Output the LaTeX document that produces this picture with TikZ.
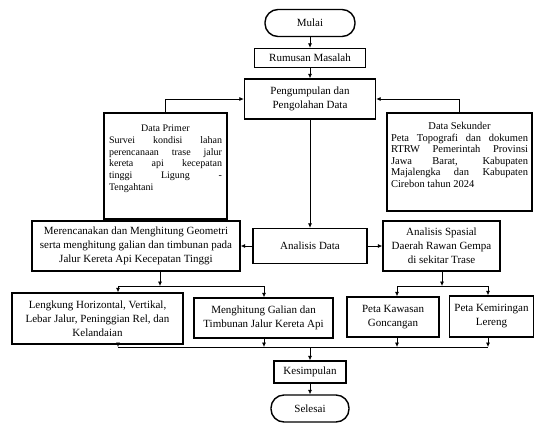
\documentclass[tikz,border=0pt]{standalone}
\usepackage{fontspec}
\setmainfont{Liberation Serif}
\usetikzlibrary{arrows.meta,positioning}

\begin{document}
\begin{tikzpicture}[x=1pt, y=1pt, >={Latex[length=4.5pt,width=4pt]},
    box/.style={draw, rectangle, line width=1.4pt, align=center, inner sep=0pt,
                font=\fontsize{11}{14}\selectfont},
    term/.style={box, rounded corners=13pt},
    datbox/.style={box, align=justify, inner xsep=5pt, font=\fontsize{10}{11.8}\selectfont},
    link/.style={line width=0.7pt}]
    \useasboundingbox (0,0) rectangle (535,-424);
    % alur utama
    \node[term, minimum width=90, minimum height=27] (mulai) at (310,-23) {Mulai};
    \node[box, minimum width=111, minimum height=19] (rumusan) at (310,-58) {Rumusan Masalah};
    \node[box, minimum width=131, minimum height=40] (kumpul) at (310,-99) {Pengumpulan dan\\Pengolahan Data};
    \node[datbox, text width=113pt, minimum width=123pt, minimum height=106pt] (primer) at (165.5,-166)
        {\hspace*{\fill}Data Primer\hspace*{\fill}\linebreak Survei kondisi lahan\linebreak perencanaan trase jalur\linebreak kereta api kecepatan\linebreak tinggi Ligung -\linebreak Tengahtani\\[5pt]};
    \node[datbox, text width=137pt, inner xsep=4pt, minimum width=145pt, minimum height=98pt, font=\fontsize{10.5}{11.5}\selectfont] (sekunder) at (459.5,-162)
        {\hspace*{\fill}Data Sekunder\hspace*{\fill}\linebreak Peta Topografi dan dokumen\linebreak RTRW Pemerintah Provinsi\linebreak Jawa Barat, Kabupaten\linebreak Majalengka dan Kabupaten\linebreak Cirebon tahun 2024\\[3pt]};
    \node[box, minimum width=114, minimum height=35] (analisis) at (310,-246) {Analisis Data};
    \node[box, minimum width=208, minimum height=50] (geometri) at (136,-246)
        {Merencanakan dan Menghitung Geometri\\serta menghitung galian dan timbunan pada\\Jalur Kereta Api Kecepatan Tinggi};
    \node[box, minimum width=117, minimum height=50] (spasial) at (441.5,-246)
        {Analisis Spasial\\Daerah Rawan Gempa\\di sekitar Trase};
    % hasil
    \node[box, minimum width=171, minimum height=51] (lengkung) at (97.5,-318.5)
        {Lengkung Horizontal, Vertikal,\\Lebar Jalur, Peninggian Rel, dan\\Kelandaian};
    \node[box, minimum width=139, minimum height=40] (galian) at (263.5,-318)
        {Menghitung Galian dan\\Timbunan Jalur Kereta Api};
    \node[box, minimum width=92, minimum height=40] (kawasan) at (393,-317) {Peta Kawasan\\Goncangan};
    \node[box, minimum width=84, minimum height=41] (lereng) at (491.5,-316.5) {Peta Kemiringan\\Lereng};
    \node[box, minimum width=72, minimum height=22] (simpul) at (310,-372) {Kesimpulan};
    \node[term, minimum width=78, minimum height=27] (selesai) at (310,-408.5) {Selesai};
    % titik cabang
    \coordinate (gmid) at (160,-286);
    \coordinate (gl) at (118,-286);
    \coordinate (gr) at (264,-286);
    \coordinate (smid) at (442,-286);
    \coordinate (sl) at (397,-286);
    \coordinate (sr) at (488,-286);
    \coordinate (bl) at (118,-347);
    \coordinate (b2) at (264,-347);
    \coordinate (b3) at (397,-347);
    \coordinate (br) at (488,-347);
    \coordinate (bm) at (310,-347);
    % panah
    \draw[link, ->] (mulai) -- (rumusan);
    \draw[link, ->] (rumusan) -- (kumpul);
    \draw[link, ->] (primer.north) |- (kumpul.west);
    \draw[link, ->] (sekunder.north) |- (kumpul.east);
    \draw[link, ->] (kumpul) -- (analisis);
    \draw[link, ->] (analisis) -- (geometri);
    \draw[link, ->] (analisis) -- (spasial);
    \draw[link, ->] (geometri.south -| gmid) -- (gmid);
    \draw[link] (gl) -- (gr);
    \draw[link, ->] (gl) -- (gl |- lengkung.north);
    \draw[link, ->] (gr) -- (gr |- galian.north);
    \draw[link, ->] (spasial.south -| smid) -- (smid);
    \draw[link] (sl) -- (sr);
    \draw[link, ->] (sl) -- (sl |- kawasan.north);
    \draw[link, ->] (sr) -- (sr |- lereng.north);
    \draw[link, ->] (lengkung.south -| bl) -- (bl);
    \draw[link, ->] (galian.south -| b2) -- (b2);
    \draw[link, ->] (kawasan.south -| b3) -- (b3);
    \draw[link, ->] (lereng.south -| br) -- (br);
    \draw[link] (bl) -- (br);
    \draw[link, ->] (bm) -- (simpul);
    \draw[link, ->] (simpul) -- (selesai);
\end{tikzpicture}
\end{document}
